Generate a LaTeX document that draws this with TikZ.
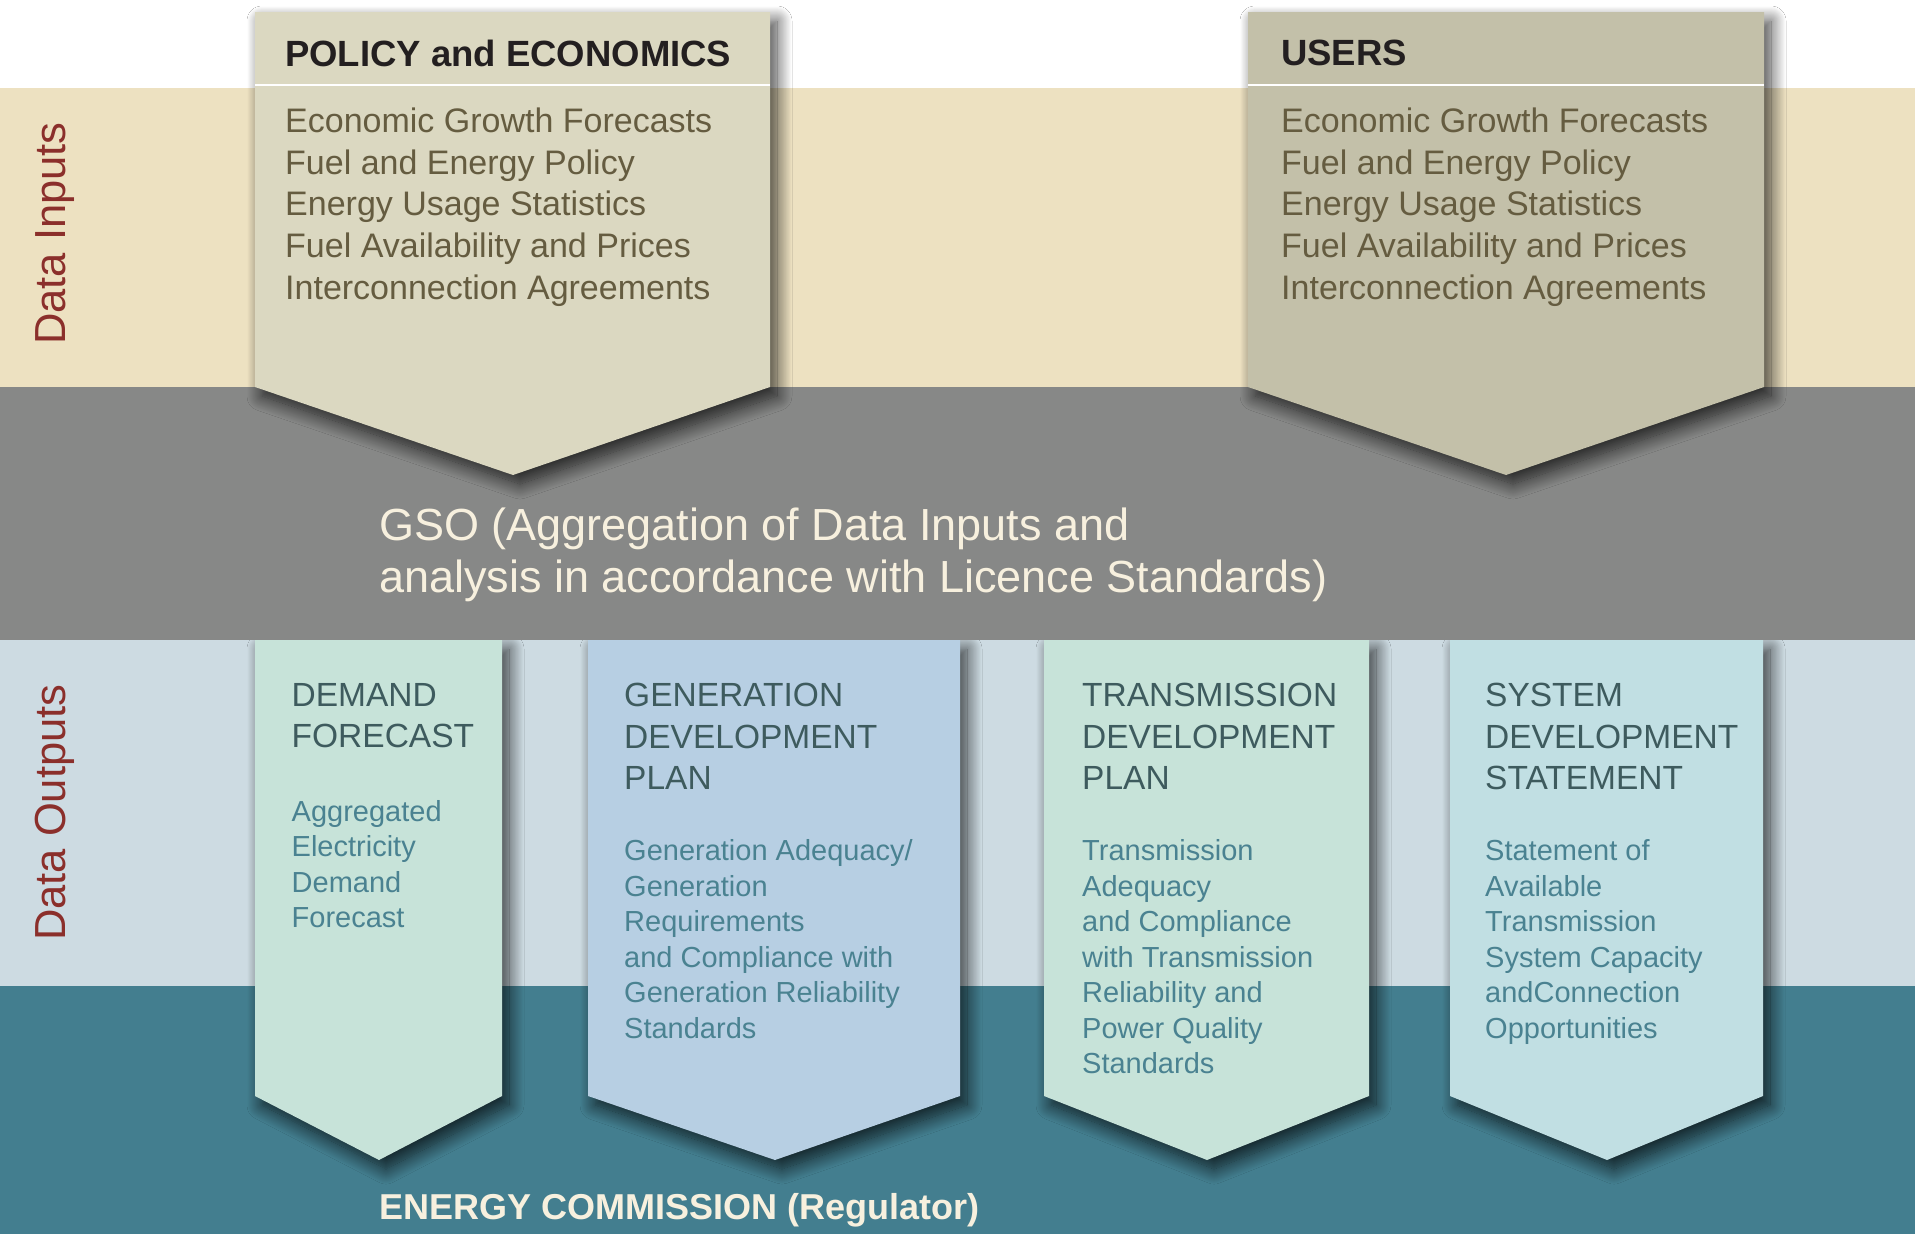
\documentclass[tikz,border=0pt]{standalone}
\usepackage{fontspec}
\setmainfont{Liberation Sans}
\usetikzlibrary{shadows.blur}
\definecolor{tanband}{HTML}{EDE1C1}
\definecolor{grayband}{HTML}{878887}
\definecolor{blueband}{HTML}{CDDBE2}
\definecolor{tealband}{HTML}{437E8F}
\definecolor{policyfill}{HTML}{DBD8C1}
\definecolor{usersfill}{HTML}{C3C0A9}
\definecolor{mintfill}{HTML}{C7E3D9}
\definecolor{genfill}{HTML}{B7CFE3}
\definecolor{sysfill}{HTML}{C1DFE3}
\definecolor{toptitle}{HTML}{231F20}
\definecolor{topbody}{HTML}{655C40}
\definecolor{bottitle}{HTML}{3E5B5E}
\definecolor{botbody}{HTML}{4A8291}
\definecolor{cream}{HTML}{F7F0DE}
\definecolor{sidelabel}{HTML}{8B2F2B}
\begin{document}
\begin{tikzpicture}[x=1pt,y=-1pt,
  arrowshape/.style={blur shadow={shadow xshift=7pt,shadow yshift=-9pt,shadow blur radius=15pt,shadow opacity=75,shadow blur steps=20}},
  txt/.style={inner sep=0pt,anchor=north west,align=left},
  toptitletxt/.style={txt,text=toptitle,font=\fontsize{36.5}{42}\selectfont\bfseries},
  topbodytxt/.style={txt,text=topbody,font=\fontsize{34}{41.7}\selectfont},
  bottitletxt/.style={txt,text=bottitle,font=\fontsize{33.5}{41.5}\selectfont},
  botbodytxt/.style={txt,text=botbody,font=\fontsize{29}{35.5}\selectfont},
  sidetxt/.style={inner sep=0pt,anchor=base west,rotate=90,text=sidelabel,font=\fontsize{43.5}{50}\selectfont},
  creamtxt/.style={txt,text=cream}
]
\useasboundingbox (0,0) rectangle (1915,1234);
% bands
\fill[white] (0,0) rectangle (1915,88);
\fill[tanband] (0,88) rectangle (1915,387);
\fill[grayband] (0,387) rectangle (1915,640);
\fill[blueband] (0,640) rectangle (1915,986);
\fill[tealband] (0,986) rectangle (1915,1234);

% top arrows
\fill[policyfill,arrowshape] (255,12) -- (770,12) -- (770,387) -- (513,475) -- (255,387) -- cycle;
\draw[white,line width=2pt] (255,85) -- (770,85);
\fill[usersfill,arrowshape] (1248,12) -- (1764,12) -- (1764,387) -- (1506,475) -- (1248,387) -- cycle;
\draw[white,line width=2pt] (1248,85) -- (1764,85);

% bottom arrows
\fill[mintfill,arrowshape] (255,640) -- (502,640) -- (502,1096) -- (379,1160) -- (255,1096) -- cycle;
\fill[genfill,arrowshape] (588,640) -- (960,640) -- (960,1096) -- (775,1160) -- (588,1096) -- cycle;
\fill[mintfill,arrowshape] (1044,640) -- (1369,640) -- (1369,1096) -- (1207,1160) -- (1044,1096) -- cycle;
\fill[sysfill,arrowshape] (1450,640) -- (1763,640) -- (1763,1096) -- (1607,1160) -- (1450,1096) -- cycle;
% band edge restored above bottom arrows' shadow
\fill[grayband] (0,600) rectangle (1915,640);

% side labels
\node[sidetxt] (datain) at (65,345) {Data Inputs};
\node[sidetxt] (dataout) at (65,941) {Data Outputs};

% top texts
\node[toptitletxt] (poltitle) at (285,40) {POLICY and ECONOMICS};
\node[topbodytxt] (polbody) at (285,107.5) {Economic Growth Forecasts\\Fuel and Energy Policy\\Energy Usage Statistics\\Fuel Availability and Prices\\Interconnection Agreements};
\node[toptitletxt] (usetitle) at (1281,40) {USERS};
\node[topbodytxt] (usebody) at (1281,107.5) {Economic Growth Forecasts\\Fuel and Energy Policy\\Energy Usage Statistics\\Fuel Availability and Prices\\Interconnection Agreements};

% GSO
\node[creamtxt,font=\fontsize{45}{52}\selectfont] (gso) at (379,508) {GSO (Aggregation of Data Inputs and\\analysis in accordance with Licence Standards)};

% bottom texts
\node[bottitletxt] (demtitle) at (291.5,683) {DEMAND\\FORECAST};
\node[botbodytxt] (dembody) at (291.5,800) {Aggregated\\Electricity\\Demand\\Forecast};
\node[bottitletxt] (gentitle) at (624,683) {GENERATION\\DEVELOPMENT\\PLAN};
\node[botbodytxt] (genbody) at (624,839.5) {Generation Adequacy/\\Generation\\Requirements\\and Compliance with\\Generation Reliability\\Standards};
\node[bottitletxt] (trtitle) at (1082,683) {TRANSMISSION\\DEVELOPMENT\\PLAN};
\node[botbodytxt] (trbody) at (1082,839.5) {Transmission\\Adequacy\\and Compliance\\with Transmission\\Reliability and\\Power Quality\\Standards};
\node[bottitletxt] (systitle) at (1485,683) {SYSTEM\\DEVELOPMENT\\STATEMENT};
\node[botbodytxt] (sysbody) at (1485,839.5) {Statement of\\Available\\Transmission\\System Capacity\\andConnection\\Opportunities};

% regulator
\node[creamtxt,font=\fontsize{36}{42}\selectfont\bfseries] (energy) at (379.5,1193) {ENERGY COMMISSION (Regulator)};
\end{tikzpicture}
\end{document}
